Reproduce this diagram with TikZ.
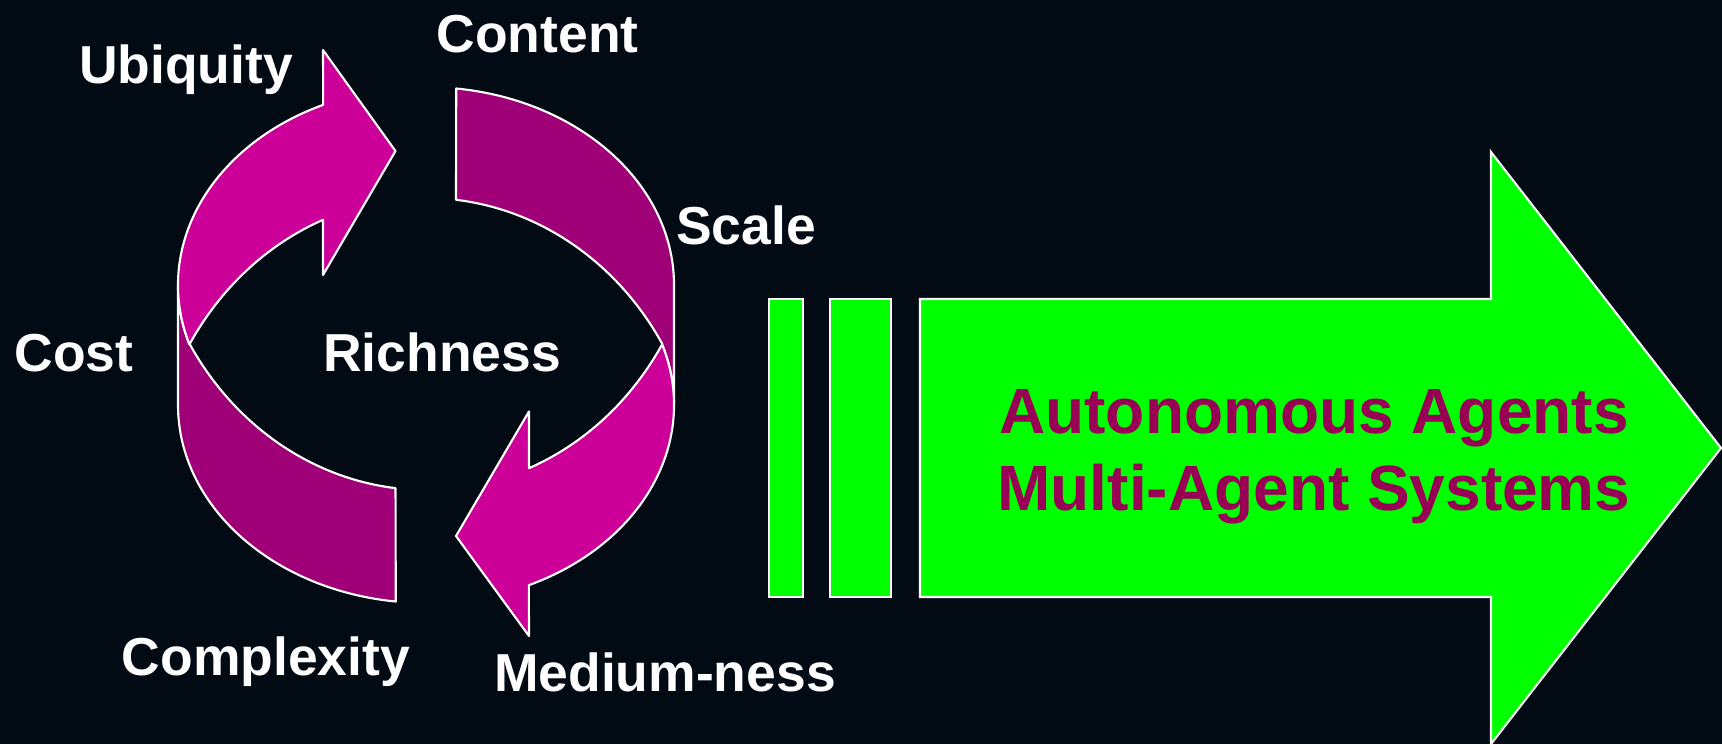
\documentclass[tikz,border=0pt]{standalone}
\usepackage{fontspec}
\setmainfont{Liberation Sans}
\usetikzlibrary{calc}
\definecolor{bgnavy}{RGB}{2,10,20}
\definecolor{brightpink}{RGB}{204,0,153}
\definecolor{darkpink}{RGB}{160,0,119}
\definecolor{limegreen}{RGB}{0,255,0}
\definecolor{goaltext}{RGB}{153,0,85}

\begin{document}
\begin{tikzpicture}[x=0.01cm,y=0.01cm,
    brightband/.style={fill=brightpink, draw=white, line width=0.6pt, line join=round},
    darkband/.style={fill=darkpink, draw=white, line width=0.6pt, line join=round},
    greenblock/.style={fill=limegreen, draw=white, line width=0.6pt},
    outerarc/.style={x radius=248, y radius=198},
    innerarc/.style={x radius=276, y radius=302}]
  \tikzstyle{every node}=[inner sep=0pt, anchor=base]
  \tikzstyle{term}=[text=white, font=\bfseries\fontsize{15.2}{18}\selectfont]
  \tikzstyle{goal}=[text=goaltext, font=\bfseries\fontsize{18.2}{22}\selectfont]

  \fill[bgnavy] (0,0) rectangle (1722,744);
  \useasboundingbox (0,0) rectangle (1722,744);

  % centres of the ribbon edges
  \coordinate (T) at (426,459);
  \coordinate (B) at (426,339);
  \coordinate (U) at (426,244);
  \coordinate (L) at (426,556);

  % back bands
  \path[darkband] ($(T)+(83:248 and 198)$) arc[start angle=83, end angle=0, outerarc]
    -- ($(B)+(0:248 and 198)$) arc[start angle=0, end angle=17.94, outerarc]
    -- ($(U)+(31.13:276 and 302)$) arc[start angle=31.13, end angle=83.76, innerarc] -- cycle;
  \path[darkband] ($(B)+(263:248 and 198)$) arc[start angle=263, end angle=180, outerarc]
    -- ($(T)+(180:248 and 198)$) arc[start angle=180, end angle=197.33, outerarc]
    -- ($(L)+(211.13:276 and 302)$) arc[start angle=211.13, end angle=263.66, innerarc] -- cycle;

  % front arrows
  \path[brightband] ($(T)+(114.5:248 and 198)$) arc[start angle=114.5, end angle=197.33, outerarc]
    -- ($(U)+(148.87:276 and 302)$) arc[start angle=148.87, end angle=111.91, innerarc]
    -- (323,469) -- (395.5,593) -- (323,694) -- cycle;
  \path[brightband] ($(B)+(-65.5:248 and 198)$) arc[start angle=-65.5, end angle=17.94, outerarc]
    -- ($(L)+(-31.13:276 and 302)$) arc[start angle=-31.13, end angle=-68.09, innerarc]
    -- (529,332.6) -- (456,208) -- (529,108) -- cycle;

  % bars and big arrow
  \path[greenblock] (769,147) rectangle (803,445);
  \path[greenblock] (830,147) rectangle (891,445);
  \path[greenblock] (920,147) -- (920,445) -- (1491,445) -- (1491,592)
    -- (1721,296) -- (1491,0) -- (1491,147) -- cycle;

  \node[term] (ubiquity) at (186,660.7) {Ubiquity};
  \node[term] (content) at (537.5,691.3) {Content};
  \node[term] (scale) at (746,500) {Scale};
  \node[term] (cost) at (74,372.3) {Cost};
  \node[term] (richness) at (442,372.3) {Richness};
  \node[term] (complexity) at (266,69) {Complexity};
  \node[term] (mediumness) at (665,53) {Medium-ness};

  \node[goal] (autonomous) at (1314,311) {Autonomous Agents};
  \node[goal] (multiagent) at (1314,234) {Multi-Agent Systems};
\end{tikzpicture}
\end{document}
